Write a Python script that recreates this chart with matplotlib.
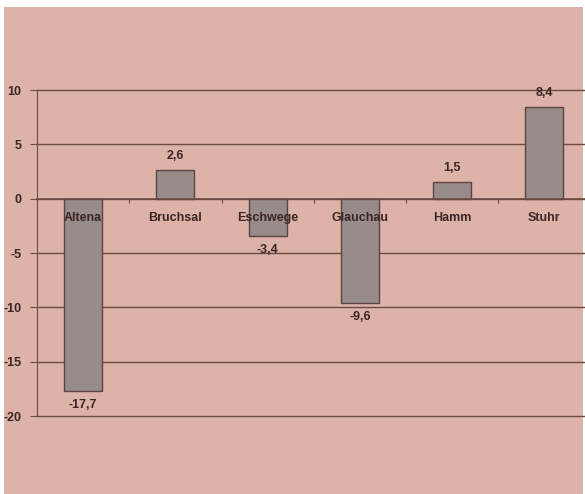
import matplotlib.pyplot as plt
from matplotlib.patches import Rectangle

plt.rcParams["font.family"] = ["Liberation Sans", "DejaVu Sans"]

cities = ["Altena", "Bruchsal", "Eschwege", "Glauchau", "Hamm", "Stuhr"]
changes = [-17.7, 2.6, -3.4, -9.6, 1.5, 8.4]
y_ticks = [10, 5, 0, -5, -10, -15, -20]

BG = "#dcb2a9"
LINE = "#6e4a45"
TEXT = "#3b2624"
BAR = "#978c8a"
BAR_EDGE = "#5e4340"

fig = plt.figure(figsize=(5.85, 4.94), dpi=100)
fig.patch.set_facecolor("white")
fig.patches.append(Rectangle((4 / 585, 0), 579 / 585, 487 / 494,
                             transform=fig.transFigure, facecolor=BG,
                             edgecolor="none", zorder=-10))

ax = fig.add_axes([37 / 585, 78 / 494, 548 / 585, 326 / 494])
ax.set_facecolor("none")

x = list(range(len(cities)))
ax.bar(x, changes, width=0.41, color=BAR, edgecolor=BAR_EDGE, linewidth=1, zorder=2)

ax.set_xlim(-0.5, 5.44)
ax.set_ylim(-20, 10)
ax.set_yticks(y_ticks)
ax.set_yticklabels([str(v) for v in y_ticks], fontsize=9, fontweight="bold", color=TEXT)
for v in y_ticks:
    ax.axhline(v, color=LINE, linewidth=1.0, zorder=1, clip_on=False)

# category boundaries get small ticks on the zero line
ax.set_xticks([i + 0.5 for i in range(len(cities) - 1)])
ax.set_xticklabels([])
ax.spines["bottom"].set_position(("data", 0))
ax.spines["bottom"].set_color(LINE)
ax.spines["bottom"].set_linewidth(1.2)
ax.spines["bottom"].set_zorder(3)
ax.tick_params(axis="x", direction="out", length=3, color=LINE, pad=0)
ax.tick_params(axis="y", length=5, color=LINE, pad=6)

for side in ["top", "right"]:
    ax.spines[side].set_visible(False)
ax.spines["left"].set_color(LINE)

for i, name in enumerate(cities):
    ax.text(i, -1.8, name, ha="center", va="center", fontsize=9,
            fontweight="bold", color=TEXT, zorder=4)

for i, v in enumerate(changes):
    label = f"{v:.1f}".replace(".", ",")
    offset = 1.3 if v > 0 else -1.3
    ax.text(i, v + offset, label, ha="center", va="center", fontsize=9,
            fontweight="bold", color=TEXT, zorder=4)

fig.savefig("out.png", dpi=100, facecolor=fig.get_facecolor())
